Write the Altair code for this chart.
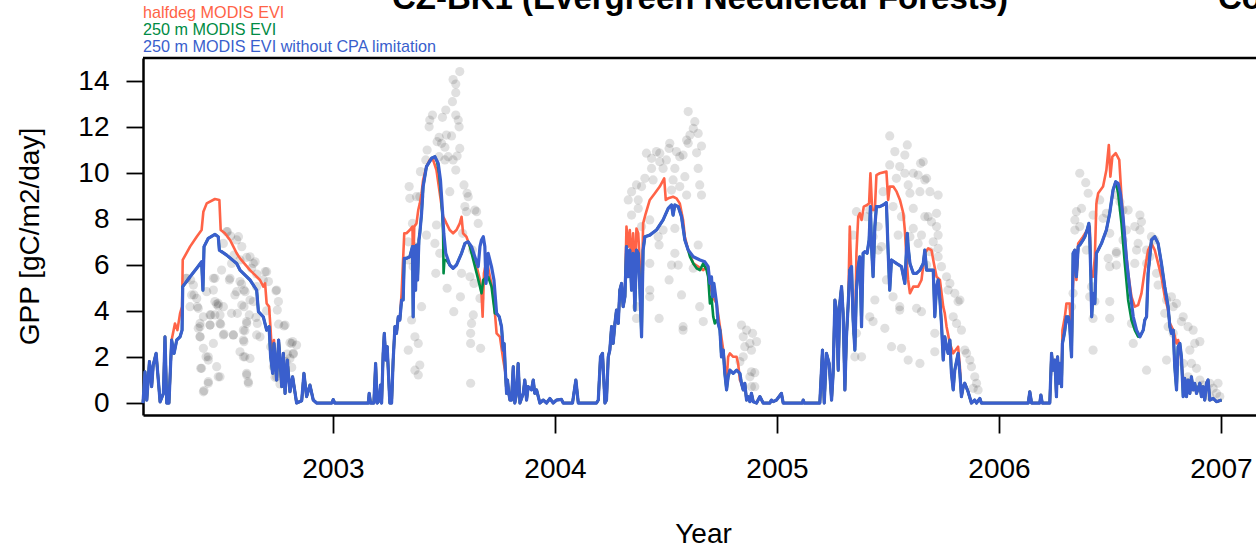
import altair as alt
import pandas as pd

# ---------------- data ----------------
# blue: "250 m MODIS EVI without CPA limitation"  (year, GPP)
BLUE_2002 = [(2002.144,0),(2002.153,1.36),(2002.161,0.13),(2002.173,1.80),(2002.183,0.71),(2002.190,1.65),
             (2002.203,2.16),(2002.213,1.00),(2002.221,0.05),(2002.236,0.42),(2002.243,2.88),(2002.251,0),
             (2002.261,0),(2002.273,2.74),(2002.284,2.16),(2002.296,2.74),(2002.311,2.88),(2002.320,3.17),
             (2002.323,5.06),(2002.356,5.49),(2002.386,5.86),(2002.408,6.14),(2002.414,4.91),(2002.419,6.80),
             (2002.438,7.16),(2002.468,7.33),(2002.483,7.23),(2002.488,6.65),(2002.521,6.43),(2002.566,6.07),
             (2002.581,5.78),(2002.626,5.35),(2002.656,4.91),(2002.664,3.97),(2002.686,3.75),(2002.701,3.17),
             (2002.712,3.32),(2002.719,2.01),(2002.728,1.29),(2002.734,2.59),(2002.746,1.00),(2002.755,2.74),
             (2002.769,0.71),(2002.776,2.16),(2002.784,0.42),(2002.794,1.87),(2002.806,0.49),(2002.818,1.14),
             (2002.836,0),(2002.859,0.10),(2002.869,1.29),(2002.881,0.28),(2002.896,0.78),(2002.911,0.13),
             (2002.926,0),(2002.995,0),(2003.001,0.15),(2003.008,0)]
BLUE_2003 = [(2003.076,0),(2003.159,0),(2003.163,0.42),(2003.169,0),(2003.184,0),(2003.192,1.72),(2003.199,0),
             (2003.208,0.10),(2003.214,0.78),(2003.219,0),(2003.226,2.16),(2003.231,3.03),(2003.238,1.87),
             (2003.244,2.45),(2003.256,0),(2003.264,0),(2003.271,1.87),(2003.279,3.32),(2003.286,3.03),
             (2003.294,3.75),(2003.301,3.61),(2003.309,4.48),(2003.316,4.48),(2003.321,6.29),(2003.331,6.29),
             (2003.346,6.36),(2003.358,6.80),(2003.361,3.75),(2003.366,6.80),(2003.372,4.91),(2003.376,6.87),
             (2003.381,5.35),(2003.387,7.09),(2003.391,7.38),(2003.399,8.25),(2003.406,9.41),(2003.421,10.28),
             (2003.444,10.64),(2003.459,10.71),(2003.474,10.42),(2003.484,9.70),(2003.493,8.39),(2003.499,7.38),
             (2003.508,6.51),(2003.526,6.00),(2003.541,5.86),(2003.556,6.00),(2003.579,6.51),(2003.594,6.94),
             (2003.609,7.01),(2003.624,6.80),(2003.639,6.36),(2003.654,5.93),(2003.662,6.80),(2003.669,7.09),
             (2003.677,7.23),(2003.684,6.80),(2003.689,5.20),(2003.695,5.64),(2003.699,6.51),(2003.714,5.93),
             (2003.725,5.35),(2003.737,3.90),(2003.749,3.75),(2003.759,3.32),(2003.767,2.30),(2003.771,2.59),
             (2003.777,1.29),(2003.782,0.42),(2003.786,1.00),(2003.792,0.42),(2003.797,0.13),(2003.804,0.13),
             (2003.812,1.58),(2003.819,0),(2003.827,0.42),(2003.834,1.72),(2003.842,0),(2003.857,0.42),
             (2003.864,1.00),(2003.872,0.13),(2003.879,0.71),(2003.894,0.57),(2003.902,1.00),(2003.909,0.42),
             (2003.917,0.57),(2003.932,0),(2003.947,0.13),(2003.962,0),(2003.977,0.20),(2003.992,0),
             (2004.007,0.13),(2004.029,0.16),(2004.037,0),(2004.079,0)]
BLUE_2004 = [(2004.094,1.00),(2004.105,0),(2004.187,0),(2004.195,0.13),(2004.205,2.01),(2004.214,2.16),
             (2004.225,0),(2004.232,0.13),(2004.240,2.01),(2004.247,2.30),(2004.255,3.32),(2004.262,2.59),
             (2004.270,3.46),(2004.277,4.04),(2004.285,3.46),(2004.292,4.91),(2004.300,5.20),(2004.307,4.19),
             (2004.315,4.62),(2004.322,6.80),(2004.330,5.49),(2004.337,6.65),(2004.345,4.91),(2004.352,6.51),
             (2004.360,4.04),(2004.367,6.65),(2004.375,6.51),(2004.382,5.06),(2004.390,2.88),(2004.397,6.65),
             (2004.405,7.23),(2004.427,7.30),(2004.457,7.52),(2004.487,7.96),(2004.510,8.46),(2004.525,8.61),
             (2004.532,8.17),(2004.540,8.61),(2004.555,8.54),(2004.570,8.10),(2004.585,7.09),(2004.600,6.65),
             (2004.623,6.36),(2004.653,6.22),(2004.675,6.14),(2004.690,5.93),(2004.698,5.20),(2004.705,5.49),
             (2004.710,4.62),(2004.716,5.20),(2004.728,4.33),(2004.735,3.46),(2004.743,3.17),(2004.750,2.01),
             (2004.758,2.30),(2004.765,1.29),(2004.773,0.57),(2004.780,1.14),(2004.788,1.43),(2004.803,1.29),
             (2004.818,1.43),(2004.833,1.29),(2004.840,0.86),(2004.848,0.57),(2004.855,0.86),(2004.863,0.13),
             (2004.870,0.28),(2004.878,0.06),(2004.885,0.42),(2004.893,0.06),(2004.908,0),(2004.923,0.28),
             (2004.938,0),(2004.968,0),(2004.975,0.13),(2004.983,0.06),(2004.998,0.13),(2005.020,0.42),
             (2005.028,0)]
BLUE_2005 = [(2005.058,0),(2005.115,0),(2005.118,0.13),(2005.123,0),(2005.193,0),(2005.205,2.30),(2005.213,0),
             (2005.223,2.16),(2005.235,1.72),(2005.246,0.13),(2005.253,1.29),(2005.261,4.48),(2005.268,4.04),
             (2005.276,1.43),(2005.283,4.33),(2005.291,5.06),(2005.298,3.90),(2005.306,0.57),(2005.313,2.88),
             (2005.321,4.33),(2005.328,5.78),(2005.336,5.93),(2005.343,3.61),(2005.351,2.30),(2005.358,4.91),
             (2005.366,5.93),(2005.373,6.36),(2005.381,3.32),(2005.388,6.51),(2005.396,6.58),(2005.406,6.51),
             (2005.415,7.09),(2005.421,8.54),(2005.426,6.80),(2005.433,5.49),(2005.441,7.67),(2005.448,8.54),
             (2005.463,8.54),(2005.478,8.61),(2005.493,8.71),(2005.501,6.51),(2005.508,4.91),(2005.516,6.22),
             (2005.538,6.07),(2005.561,5.93),(2005.576,5.20),(2005.587,7.38),(2005.591,6.80),(2005.599,6.07),
             (2005.614,5.64),(2005.629,5.64),(2005.644,5.78),(2005.659,6.07),(2005.666,6.65),(2005.674,5.78),
             (2005.689,5.78),(2005.704,5.78),(2005.711,3.75),(2005.719,5.06),(2005.726,5.35),(2005.734,4.48),
             (2005.741,3.46),(2005.749,1.87),(2005.756,2.88),(2005.764,2.45),(2005.771,2.16),(2005.779,2.74),
             (2005.786,1.29),(2005.794,0.57),(2005.801,1.43),(2005.816,2.16),(2005.824,1.29),(2005.831,0.28),
             (2005.839,0.71),(2005.846,0.86),(2005.861,0.49),(2005.876,0),(2005.891,0.13),(2005.899,0),
             (2005.914,0.20),(2005.921,0)]
BLUE_2006 = [(2006.049,0),(2006.132,0),(2006.139,0.49),(2006.147,0),(2006.184,0),(2006.189,0.35),(2006.195,0),
             (2006.229,0),(2006.237,2.16),(2006.244,1.43),(2006.252,1.87),(2006.259,0.28),(2006.264,2.01),
             (2006.271,0.86),(2006.277,1.72),(2006.282,0.71),(2006.286,2.59),(2006.292,2.88),(2006.297,3.17),
             (2006.304,3.75),(2006.312,3.75),(2006.319,3.32),(2006.327,2.01),(2006.331,4.33),(2006.334,6.51),
             (2006.342,6.65),(2006.349,5.49),(2006.357,6.80),(2006.364,6.87),(2006.379,7.09),(2006.387,7.23),
             (2006.397,7.52),(2006.405,7.81),(2006.409,7.23),(2006.414,5.49),(2006.418,3.75),(2006.424,4.77),
             (2006.432,4.33),(2006.439,6.51),(2006.447,6.65),(2006.462,6.94),(2006.484,7.52),(2006.499,8.25),
             (2006.514,9.26),(2006.526,9.62),(2006.537,9.55),(2006.547,9.12),(2006.559,8.10),(2006.575,6.22),
             (2006.590,4.91),(2006.605,3.75),(2006.620,3.17),(2006.635,2.88),(2006.650,3.17),(2006.657,3.61),
             (2006.665,3.75),(2006.672,5.64),(2006.687,7.09),(2006.702,7.23),(2006.717,6.94),(2006.732,6.07),
             (2006.747,5.06),(2006.762,4.19),(2006.770,3.32),(2006.777,3.03),(2006.785,3.17),(2006.792,1.58),
             (2006.800,0.57),(2006.807,2.45),(2006.815,2.59),(2006.822,2.01),(2006.830,0.28),(2006.837,1.07),
             (2006.845,0.28),(2006.852,1.00),(2006.860,0.42),(2006.867,1.14),(2006.875,0.57),(2006.882,0.86),
             (2006.890,0.42),(2006.905,0.86),(2006.912,0.28),(2006.920,0.71),(2006.927,0.13),(2006.935,0.86),
             (2006.942,1.00),(2006.950,0.13),(2006.965,0.20),(2006.980,0.06),(2007.003,0.13)]

# red: "halfdeg MODIS EVI" where it departs from the blue line
RED_2002 = [(2002.273,2.74),(2002.288,3.46),(2002.299,3.17),(2002.311,3.90),(2002.320,4.19),(2002.323,6.22),
            (2002.356,6.80),(2002.386,7.23),(2002.408,7.52),(2002.416,8.32),(2002.431,8.68),(2002.468,8.87),
            (2002.488,8.83),(2002.494,7.52),(2002.513,7.38),(2002.536,7.09),(2002.566,6.51),(2002.581,6.29),
            (2002.626,5.78),(2002.671,5.35),(2002.686,5.06),(2002.694,5.20),(2002.701,4.33),(2002.712,4.19),
            (2002.719,3.17),(2002.728,1.58),(2002.734,2.74)]
RED_2003 = [(2003.301,3.61),(2003.309,4.77),(2003.321,7.38),(2003.331,7.38),(2003.346,7.52),(2003.358,7.67),
            (2003.361,5.64),(2003.366,7.67),(2003.376,7.81),(2003.384,8.39),(2003.391,8.68),(2003.399,9.12),
            (2003.406,9.70),(2003.421,10.28),(2003.436,10.57),(2003.451,10.57),(2003.466,10.13),(2003.481,9.12),
            (2003.496,8.10),(2003.504,7.96),(2003.511,7.81),(2003.526,7.52),(2003.541,7.38),(2003.556,7.52),
            (2003.571,7.81),(2003.579,8.10),(2003.586,7.38),(2003.601,7.23),(2003.617,6.80),(2003.632,6.36),
            (2003.647,5.93),(2003.662,5.35),(2003.669,4.77),(2003.674,3.75),(2003.680,5.64),(2003.692,6.22),
            (2003.707,5.49),(2003.722,4.77),(2003.737,3.03),(2003.752,2.88),(2003.767,1.87),(2003.777,1.29)]
RED_2004 = [(2004.315,4.62),(2004.322,7.67),(2004.330,6.80),(2004.337,7.52),(2004.345,6.07),(2004.352,7.38),
            (2004.360,5.49),(2004.367,7.59),(2004.375,7.38),(2004.382,6.07),(2004.390,4.19),(2004.397,7.81),
            (2004.409,8.25),(2004.427,8.83),(2004.450,9.12),(2004.472,9.41),(2004.492,9.77),(2004.499,8.83),
            (2004.510,8.90),(2004.532,8.97),(2004.547,8.90),(2004.562,8.68),(2004.577,7.96),(2004.585,7.23),
            (2004.600,6.65),(2004.623,6.07),(2004.645,5.93),(2004.668,5.78),(2004.683,5.93),(2004.698,5.20),
            (2004.710,4.62),(2004.728,4.33),(2004.743,3.32),(2004.758,2.30),(2004.773,0.86),(2004.780,2.01),
            (2004.788,2.16),(2004.803,2.01),(2004.818,2.01),(2004.825,1.72),(2004.833,1.00),(2004.840,0.86)]
RED_2005 = [(2005.321,4.33),(2005.328,7.67),(2005.336,5.35),(2005.343,3.75),(2005.351,2.45),(2005.358,6.51),
            (2005.366,8.10),(2005.373,8.25),(2005.381,7.96),(2005.391,8.54),(2005.406,8.61),(2005.415,8.68),
            (2005.421,9.99),(2005.429,8.39),(2005.441,8.39),(2005.448,9.91),(2005.463,9.99),(2005.493,10.06),
            (2005.501,8.83),(2005.508,9.41),(2005.524,9.41),(2005.539,9.19),(2005.554,8.83),(2005.569,8.25),
            (2005.576,7.52),(2005.584,6.22),(2005.591,5.35),(2005.599,4.77),(2005.614,5.06),(2005.636,5.06),
            (2005.651,5.35),(2005.666,6.51),(2005.681,6.72),(2005.696,6.65),(2005.707,6.07),(2005.719,5.49),
            (2005.734,5.35),(2005.749,4.19),(2005.756,3.90),(2005.764,3.32),(2005.779,2.59),(2005.794,2.16),
            (2005.816,2.45),(2005.824,1.58)]
RED_2006 = [(2006.282,0.71),(2006.286,3.17),(2006.297,3.75),(2006.304,4.33),(2006.319,4.33),(2006.327,2.30),
            (2006.331,4.62),(2006.342,6.65),(2006.349,5.35),(2006.357,6.94),(2006.379,7.23),(2006.397,7.52),
            (2006.409,7.67),(2006.414,5.78),(2006.424,5.49),(2006.432,6.36),(2006.439,8.68),(2006.447,9.12),
            (2006.469,9.41),(2006.484,10.13),(2006.495,11.22),(2006.502,9.84),(2006.511,10.71),(2006.526,10.86),
            (2006.542,10.57),(2006.552,8.97),(2006.567,7.09),(2006.582,5.64),(2006.597,4.62),(2006.612,4.19),
            (2006.627,4.26),(2006.642,4.77),(2006.657,5.78),(2006.672,6.65),(2006.687,6.94),(2006.702,6.65),
            (2006.717,6.07),(2006.732,5.49),(2006.747,4.62),(2006.762,4.04),(2006.770,3.46),(2006.785,3.17),
            (2006.800,2.59),(2006.807,2.74),(2006.815,2.45),(2006.830,1.00)]

# green: "250 m MODIS EVI" where it departs from the blue line
GREEN_2003A = [(2003.459,10.71),(2003.469,10.49),(2003.478,9.99),(2003.486,9.12),(2003.493,8.10),
               (2003.496,7.38),(2003.498,5.64),(2003.502,6.22),(2003.511,6.22)]
GREEN_2003B = [(2003.617,6.80),(2003.632,6.22),(2003.647,5.64),(2003.662,5.06),(2003.669,4.77),
               (2003.677,5.35),(2003.692,5.49),(2003.699,5.49),(2003.714,5.06),(2003.729,3.90)]
GREEN_2004 = [(2004.600,6.65),(2004.608,6.36),(2004.623,6.07),(2004.638,5.86),(2004.653,5.78),(2004.668,6.07),
              (2004.683,5.78),(2004.690,5.49),(2004.698,4.33),(2004.705,4.62),(2004.713,3.75),(2004.720,3.46),
              (2004.728,3.61)]
GREEN_2006 = [(2006.526,9.62),(2006.537,9.12),(2006.552,7.81),(2006.567,6.07),(2006.582,4.48),(2006.597,3.61),
              (2006.612,3.17),(2006.627,2.88)]

# grey points: observed GPP
OBS_2002 = [(2002.338,5.42),(2002.359,5.35),(2002.374,4.70),(2002.356,4.19),(2002.389,4.19),(2002.401,3.46),
            (2002.393,3.25),(2002.401,2.88),(2002.428,2.01),(2002.404,1.51),(2002.438,1.87),(2002.438,0.93),
            (2002.419,0.54),(2002.483,1.14),(2002.468,5.42),(2002.461,4.91),(2002.476,4.30),(2002.483,4.22),
            (2002.468,3.83),(2002.450,3.83),(2002.446,3.39),(2002.494,3.43),(2002.509,3.00),(2002.551,2.96),
            (2002.533,5.35),(2002.498,5.78),(2002.524,7.45),(2002.539,7.26),(2002.566,7.09),(2002.554,6.43),
            (2002.581,6.22),(2002.611,6.33),(2002.641,6.07),(2002.633,5.86),(2002.656,5.61),(2002.694,5.71),
            (2002.686,5.35),(2002.599,4.91),(2002.588,5.17),(2002.558,4.70),(2002.569,3.90),(2002.599,4.19),
            (2002.603,3.14),(2002.611,3.46),(2002.623,3.83),(2002.653,3.72),(2002.659,3.46),(2002.599,2.67),
            (2002.603,2.01),(2002.611,1.29),(2002.618,0.93),(2002.581,2.23),(2002.671,2.88),(2002.701,4.01),
            (2002.743,4.88),(2002.749,4.04),(2002.755,3.43),(2002.779,3.35),(2002.719,2.45),(2002.731,1.58),
            (2002.739,1.12),(2002.761,0.83),(2002.794,2.13),(2002.806,2.62),(2002.818,2.67),(2002.821,2.13),
            (2002.788,1.80),(2002.784,1.55),(2002.814,1.55),(2002.836,2.52),
            (2002.521,7.45),(2002.574,7.23),(2002.589,6.80),(2002.506,6.94),(2002.626,6.36),(2002.649,6.14),
            (2002.701,5.71),(2002.709,5.28),(2002.341,5.42),(2002.371,5.13),(2002.461,5.42),(2002.536,5.42),
            (2002.581,5.28),(2002.543,6.07),(2002.566,4.84),(2002.604,4.84),(2002.656,5.06),(2002.746,4.91),
            (2002.363,4.70),(2002.386,4.55),(2002.468,4.41),(2002.483,4.33),(2002.393,4.12),(2002.431,4.84),
            (2002.626,4.48),(2002.641,4.41),(2002.754,4.41),(2002.506,4.19),(2002.589,4.26),(2002.543,3.90),
            (2002.416,3.75),(2002.446,3.83),(2002.491,3.83),(2002.401,3.32),(2002.446,3.39),(2002.491,3.46),
            (2002.611,3.54),(2002.596,3.17),(2002.784,3.39),(2002.401,2.88),(2002.506,2.96),(2002.551,2.96),
            (2002.596,2.74),(2002.656,2.96),(2002.416,2.38),(2002.461,2.59),(2002.814,2.59),(2002.821,2.16),
            (2002.438,2.01),(2002.596,2.01),(2002.626,1.94),(2002.408,1.51),(2002.476,1.58),(2002.491,1.14),
            (2002.438,0.86),(2002.416,0.49),(2002.611,1.22),(2002.619,0.86),(2002.746,1.14),(2002.806,1.94)]
OBS_2003 = [(2003.571,14.41),(2003.541,14.06),(2003.553,13.87),(2003.553,13.49),(2003.538,13.10),(2003.448,12.52),
            (2003.436,12.30),(2003.433,12.01),(2003.493,12.42),(2003.508,12.74),(2003.553,12.52),(2003.564,12.30),
            (2003.568,12.01),(2003.511,11.65),(2003.534,11.61),(2003.478,11.55),(2003.469,11.36),(2003.489,11.29),
            (2003.424,11.00),(2003.418,10.57),(2003.504,11.12),(2003.571,11.07),(2003.559,10.74),(2003.519,10.71),
            (2003.541,10.57),(2003.504,10.57),(2003.553,10.13),(2003.394,10.06),(2003.343,9.41),(2003.346,8.90),
            (2003.391,8.97),(2003.590,9.48),(2003.604,9.12),(2003.609,8.97),(2003.526,9.19),(2003.594,8.54),
            (2003.601,8.32),(2003.647,8.32),(2003.639,8.39),(2003.654,7.81),(2003.358,7.81),(2003.339,7.01),
            (2003.369,6.80),(2003.421,7.30),(2003.466,7.74),(2003.459,6.94),(2003.481,6.51),(2003.584,7.38),
            (2003.628,6.65),(2003.635,5.20),(2003.617,5.49),(2003.579,5.64),(2003.463,5.64),(2003.514,4.99),
            (2003.574,4.62),(2003.544,3.97),(2003.662,4.55),(2003.399,4.19),(2003.354,3.61),(2003.632,3.83),
            (2003.624,3.46),(2003.620,3.03),(2003.620,2.59),(2003.665,2.38),(2003.369,2.88),(2003.384,2.59),
            (2003.339,2.30),(2003.391,1.65),(2003.369,1.43),(2003.384,1.22),(2003.620,0.86),(2003.361,5.93),
            (2003.339,6.22),(2003.376,8.97),(2003.478,10.71)]
OBS_2004 = [(2004.600,12.67),(2004.630,12.23),(2004.623,11.94),(2004.645,11.72),(2004.608,11.65),(2004.593,11.43),
            (2004.600,11.29),(2004.660,11.17),(2004.517,11.29),(2004.514,11.07),(2004.457,10.93),(2004.412,10.86),
            (2004.472,10.86),(2004.547,10.93),(2004.562,10.71),(2004.638,10.88),(2004.435,10.64),(2004.502,10.57),
            (2004.472,10.49),(2004.577,10.78),(2004.435,10.20),(2004.487,10.20),(2004.540,10.20),(2004.645,10.20),
            (2004.405,9.77),(2004.442,9.70),(2004.532,9.70),(2004.585,9.84),(2004.367,9.48),(2004.390,9.41),
            (2004.652,9.48),(2004.345,9.19),(2004.330,8.83),(2004.375,8.83),(2004.562,9.41),(2004.525,9.26),
            (2004.593,9.04),(2004.660,9.04),(2004.375,8.46),(2004.345,8.17),(2004.427,7.96),(2004.390,7.67),
            (2004.487,7.52),(2004.540,7.59),(2004.465,7.23),(2004.469,6.87),(2004.645,6.87),(2004.427,6.07),
            (2004.540,6.51),(2004.525,6.00),(2004.555,6.00),(2004.623,5.86),(2004.514,5.35),(2004.427,4.91),
            (2004.427,4.62),(2004.570,4.70),(2004.367,4.19),(2004.652,4.19),(2004.469,3.68),(2004.367,3.68),
            (2004.668,3.54),(2004.577,3.32),(2004.577,3.17),(2004.840,3.39),(2004.863,3.17),(2004.848,2.88),
            (2004.890,3.03),(2004.908,2.67),(2004.878,2.59),(2004.855,2.45),(2004.885,2.30),(2004.848,2.01),
            (2004.833,1.80),(2004.885,1.36),(2004.900,1.32),(2004.878,1.14),(2004.900,0.71),(2004.885,0.71)]
OBS_2005 = [(2005.508,11.61),(2005.587,11.22),(2005.531,10.93),(2005.576,10.78),(2005.659,10.49),(2005.647,10.42),
            (2005.508,10.35),(2005.553,10.28),(2005.576,9.99),(2005.614,9.99),(2005.666,9.70),(2005.674,9.77),
            (2005.636,9.91),(2005.538,9.77),(2005.591,9.48),(2005.644,9.19),(2005.689,9.19),(2005.726,9.04),
            (2005.599,9.12),(2005.478,9.19),(2005.523,8.54),(2005.614,8.46),(2005.418,8.39),(2005.403,8.10),
            (2005.681,8.10),(2005.719,8.25),(2005.666,8.10),(2005.358,8.32),(2005.561,8.10),(2005.696,7.88),
            (2005.719,7.67),(2005.726,7.30),(2005.546,7.30),(2005.614,7.59),(2005.599,7.23),(2005.651,7.30),
            (2005.343,7.30),(2005.456,7.67),(2005.433,7.23),(2005.471,6.80),(2005.636,6.94),(2005.704,7.01),
            (2005.726,6.72),(2005.456,6.65),(2005.689,6.58),(2005.726,6.36),(2005.674,6.00),(2005.741,5.93),
            (2005.764,5.49),(2005.779,5.20),(2005.771,4.91),(2005.824,4.48),(2005.816,4.41),(2005.801,4.77),
            (2005.493,5.35),(2005.523,4.62),(2005.441,4.48),(2005.553,4.04),(2005.629,4.12),(2005.651,3.97),
            (2005.418,3.75),(2005.433,3.54),(2005.486,3.25),(2005.553,4.19),(2005.794,3.75),(2005.809,3.46),
            (2005.831,3.17),(2005.358,3.03),(2005.711,3.03),(2005.846,2.30),(2005.854,2.16),(2005.869,1.87),
            (2005.876,1.58),(2005.891,1.14),(2005.899,0.86),(2005.884,0.64),(2005.906,0.57),(2005.351,2.01),
            (2005.381,2.01),(2005.516,2.45),(2005.561,2.38),(2005.591,1.87),(2005.644,1.72),(2005.711,2.23)]
OBS_2006 = [(2006.364,9.99),(2006.391,9.58),(2006.402,9.12),(2006.372,8.46),(2006.349,8.32),(2006.342,7.96),
            (2006.364,7.67),(2006.342,7.52),(2006.454,8.83),(2006.484,8.25),(2006.469,8.03),(2006.424,8.17),
            (2006.529,9.04),(2006.545,8.75),(2006.559,8.39),(2006.582,8.39),(2006.635,8.17),(2006.642,7.88),
            (2006.612,7.67),(2006.635,7.52),(2006.574,7.52),(2006.499,7.38),(2006.559,7.09),(2006.627,6.94),
            (2006.687,7.23),(2006.702,7.09),(2006.620,6.65),(2006.529,6.58),(2006.492,6.29),(2006.665,6.65),
            (2006.680,6.36),(2006.665,6.07),(2006.529,6.00),(2006.499,5.93),(2006.612,6.07),(2006.710,5.64),
            (2006.717,5.13),(2006.777,4.62),(2006.755,4.48),(2006.800,4.33),(2006.785,4.19),(2006.830,3.75),
            (2006.822,3.54),(2006.852,3.32),(2006.875,3.17),(2006.905,2.67),(2006.882,2.59),(2006.762,3.32),
            (2006.785,3.03),(2006.747,3.90),(2006.860,2.30),(2006.830,1.72),(2006.867,1.72),(2006.890,1.51),
            (2006.852,1.14),(2006.905,1.00),(2006.920,0.78),(2006.950,0.86),(2006.965,0.64),(2006.980,0.42),
            (2006.995,0.28),(2006.987,0.86),(2006.950,0.28),(2006.417,5.06),(2006.409,4.62),(2006.432,4.41),
            (2006.499,4.41),(2006.499,3.68),(2006.424,3.68),(2006.424,2.30),(2006.334,4.77),(2006.327,4.19),
            (2006.597,3.46),(2006.605,2.59),(2006.665,1.43),(2006.755,1.87),(2006.394,6.65),(2006.529,6.51)]

YEAR_TICKS = [2003, 2004, 2005, 2006, 2007]
GPP_TICKS = [0, 2, 4, 6, 8, 10, 12, 14]
LEGEND = ["halfdeg MODIS EVI", "250 m MODIS EVI", "250 m MODIS EVI without CPA limitation"]
COLORS = ["#FF6347", "#008B45", "#3A5FCD"]
TITLE = "CZ-BK1 (Evergreen Needleleaf Forests)"
TITLE_RIGHT = "Co"

# ---------------- build tables ----------------
def with_segments(base, segments):
    pts = list(base)
    for seg in segments:
        lo = min(p[0] for p in seg)
        hi = max(p[0] for p in seg)
        pts = [p for p in pts if not (lo <= p[0] <= hi)] + list(seg)
    return sorted(pts)

blue = sorted(BLUE_2002 + BLUE_2003 + BLUE_2004 + BLUE_2005 + BLUE_2006)
red = with_segments(blue, [RED_2002, RED_2003, RED_2004, RED_2005, RED_2006])
green = with_segments(blue, [GREEN_2003A, GREEN_2003B, GREEN_2004, GREEN_2006])
obs = OBS_2002 + OBS_2003 + OBS_2004 + OBS_2005 + OBS_2006

def frame(pts):
    return pd.DataFrame({"year": [p[0] for p in pts], "gpp": [p[1] for p in pts]})

W, H = 1113, 357
FONT = "Liberation Sans"

xscale = alt.Scale(domain=[2002.144, 2007.158], nice=False, zero=False)
yscale = alt.Scale(domain=[-0.52, 15.0], nice=False, zero=False)

xaxis = alt.Axis(values=YEAR_TICKS, format="d", title="Year", grid=False,
                 tickSize=18, tickWidth=1.8, tickColor="black",
                 domainColor="black", domainWidth=2.5,
                 labelFontSize=28, labelPadding=22, labelColor="black", labelFont=FONT,
                 labelFlush=False, labelOverlap=False,
                 titleFontSize=28, titleFontWeight="normal", titleColor="black", titleFont=FONT,
                 titleX=560, titleY=127, titleBaseline="alphabetic", titleAlign="center")
yaxis = alt.Axis(values=GPP_TICKS, title="GPP [gC/m2/day]", grid=False,
                 tickSize=17, tickWidth=1.8, tickColor="black",
                 domainColor="black", domainWidth=2.5,
                 labelFontSize=28, labelPadding=17, labelColor="black", labelFont=FONT,
                 titleFontSize=28, titleFontWeight="normal", titleColor="black", titleFont=FONT,
                 titleAngle=270, titleX=-105, titleY=178, titleBaseline="alphabetic", titleAlign="center")

X = alt.X("year:Q", scale=xscale, axis=xaxis)
Y = alt.Y("gpp:Q", scale=yscale, axis=yaxis)

points = alt.Chart(frame(obs)).mark_circle(size=85, color="black", opacity=0.12).encode(x=X, y=Y)

def line(pts, color, width):
    return alt.Chart(frame(pts)).mark_line(color=color, strokeWidth=width, strokeJoin="round").encode(
        x=X, y=Y, order="year:Q")

red_line = line(red, COLORS[0], 2.6)
green_line = line(green, COLORS[1], 2.6)
blue_line = line(blue, COLORS[2], 3.2)

one = pd.DataFrame({"a": [0]})
top_border = alt.Chart(one).mark_rule(color="black", strokeWidth=2.5).encode(
    x=alt.value(0), x2=alt.value(W), y=alt.value(0))

texts = []
for i, (lab, col) in enumerate(zip(LEGEND, COLORS)):
    texts.append(alt.Chart(one).mark_text(text=lab, color=col, font=FONT, fontSize=16.2,
                                          align="left", baseline="alphabetic").encode(
        x=alt.value(0), y=alt.value(-40 + 17 * i)))
title_txt = alt.Chart(one).mark_text(text=TITLE, font=FONT, fontSize=33, fontWeight="bold",
                                     color="black", align="center", baseline="alphabetic").encode(
    x=alt.value(557), y=alt.value(-49))
title_right = alt.Chart(one).mark_text(text=TITLE_RIGHT, font=FONT, fontSize=33, fontWeight="bold",
                                       color="black", align="left", baseline="alphabetic").encode(
    x=alt.value(1075), y=alt.value(-49))

chart = alt.layer(points, red_line, green_line, blue_line, top_border, title_txt, title_right, *texts).properties(
    width=W, height=H,
    autosize=alt.AutoSizeParams(type="none"),
    padding={"left": 143, "top": 58, "right": 0, "bottom": 133},
).configure_view(stroke=None)

chart.save("out.html", embed_options={"renderer": "svg", "actions": False})
